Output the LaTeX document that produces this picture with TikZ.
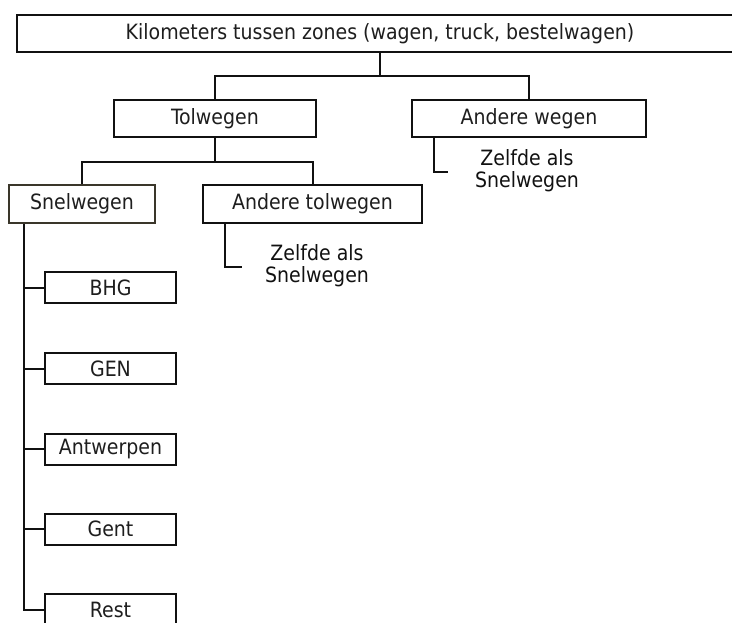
\documentclass[tikz,border=0pt]{standalone}
\usepackage{fontspec}
\setmainfont{DejaVu Sans Condensed}
\usepackage{xcolor}
\usepackage{tikz}
\usetikzlibrary{calc}
\definecolor{ink}{HTML}{111111}
\definecolor{txt}{HTML}{1E1E1E}
\definecolor{olive}{HTML}{3A362A}
\def\px{0.75pt}
\tikzset{
  box/.style={draw=ink, line width=1.5pt, fill=white, text=txt, inner sep=0pt,
    minimum height=37*\px, font=\fontsize{15.8}{18}\selectfont},
  kid/.style={box, minimum width=131*\px, minimum height=31*\px},
  link/.style={draw=ink, line width=1.5pt},
  note/.style={text=ink, align=center, font=\fontsize{15.8}{16.5}\selectfont},
}

\begin{document}
\begin{tikzpicture}[x=0.75pt, y=-0.75pt]
  \useasboundingbox (0,0) rectangle (732,622);
  % boxes
  \node[box, minimum width=726*\px] (top) at (380,33.5) {Kilometers tussen zones (wagen, truck, bestelwagen)};
  \node[box, minimum width=202*\px] (tol) at (215,118.5) {Tolwegen};
  \node[box, minimum width=234*\px] (andere) at (529,118.5) {Andere wegen};
  \node[box, draw=olive, minimum width=146*\px, minimum height=38*\px] (snel) at (82,204) {Snelwegen};
  \node[box, minimum width=219*\px, minimum height=38*\px] (andertol) at (312.5,204) {Andere tolwegen};
  \node[kid] (bhg) at (110.5,287.5) {BHG};
  \node[kid] (gen) at (110.5,368.5) {GEN};
  \node[kid] (antw) at (110.5,449) {Antwerpen};
  \node[kid] (gent) at (110.5,529) {Gent};
  \node[kid] (rest) at (110.5,609.5) {Rest};
  \node[note] (note1) at (317,266) {Zelfde als\\Snelwegen};
  \node[note] (note2) at (527,171) {Zelfde als\\Snelwegen};
  % tree lines
  \coordinate (j1) at (380,76);
  \coordinate (j2) at (215,162);
  \coordinate (spine) at (24,0);
  \coordinate (e1) at (242,267);
  \coordinate (e2) at (448,172);
  \draw[link] (top.south) -- (j1);
  \draw[link] (tol.north) |- (j1) -| (andere.north);
  \draw[link] (tol.south) -- (j2);
  \draw[link] (snel.north) |- (j2) -| (andertol.north);
  \foreach \k in {bhg,gen,antw,gent,rest}
    \draw[link] (spine |- snel.south) |- (\k.west);
  % notes
  \draw[link] ([xshift=23*\px]andertol.south west) |- (e1);
  \draw[link] ([xshift=23*\px]andere.south west) |- (e2);
\end{tikzpicture}
\end{document}
